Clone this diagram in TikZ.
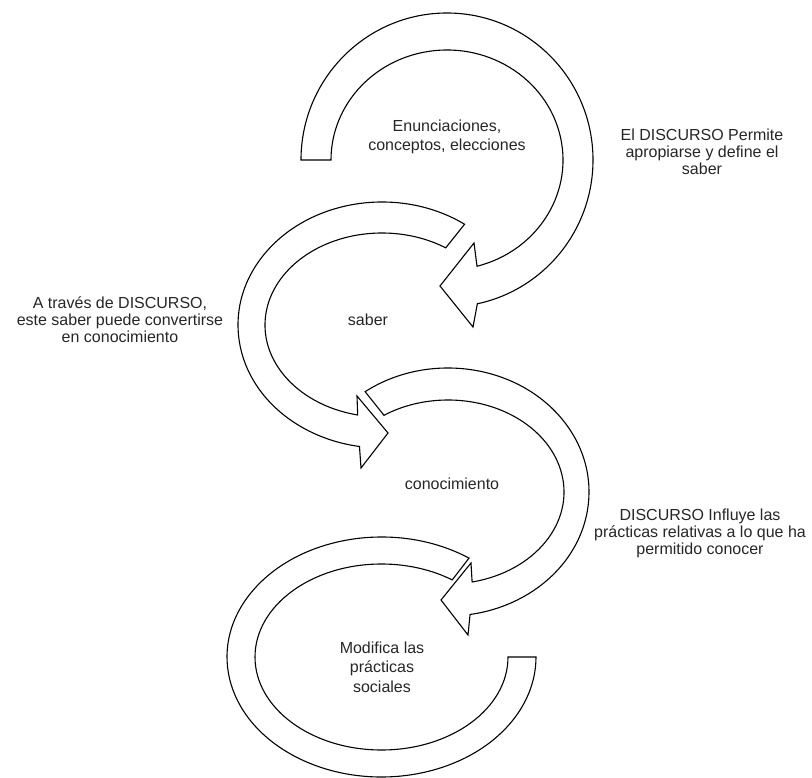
\documentclass[tikz,border=0pt]{standalone}
\usepackage{fontspec}
\setmainfont{Liberation Sans}
\usetikzlibrary{calc}

\begin{document}
\begin{tikzpicture}[
  x=1pt, y=1pt,
  font=\fontsize{16}{17}\selectfont,
  blockarrow/.style={draw=black, fill=white, line width=1.1pt, line join=miter},
  lbl/.style={align=center, inner sep=0pt, text=black!85},
  inlbl/.style={align=center, inner sep=0pt, text=black!85,
    font=\fontsize{16}{19.5}\selectfont},
]
\useasboundingbox (0,0) rectangle (812,-778);

% centres of the four curved arrows
\coordinate (c1) at (447,-160);
\coordinate (c2) at (382,-325);
\coordinate (c3) at (448,-492);
\coordinate (c4) at (381.5,-657);

% arrow heads
\coordinate (h1up)  at (474,-243);
\coordinate (h1tip) at (440,-286);
\coordinate (h1lo)  at (473,-327);
\coordinate (h2up)  at (357,-396);
\coordinate (h2tip) at (388,-433);
\coordinate (h2lo)  at (361,-468);
\coordinate (h3up)  at (471,-563);
\coordinate (h3tip) at (441,-600);
\coordinate (h3lo)  at (468,-635);

% Enunciaciones -> saber
\draw[blockarrow] (c1) ++(180:146 and 147)
  arc[start angle=180, end angle=-78, x radius=146, y radius=147]
  -- (h1lo) -- (h1tip) -- (h1up)
  -- ($(c1)+(-75:116 and 110)$)
  arc[start angle=-75, end angle=180, x radius=116, y radius=110] -- cycle;

% saber -> conocimiento
\draw[blockarrow] (c2) ++(55:144 and 123)
  arc[start angle=55, end angle=261, x radius=144, y radius=123]
  -- (h2lo) -- (h2tip) -- (h2up)
  -- ($(c2)+(258:117 and 92)$)
  arc[start angle=258, end angle=57, x radius=117, y radius=92] -- cycle;

% conocimiento -> practicas
\draw[blockarrow] (c3) ++(126:141 and 124)
  arc[start angle=126, end angle=-81, x radius=141, y radius=124]
  -- (h3lo) -- (h3tip) -- (h3up)
  -- ($(c3)+(-78:116 and 92)$)
  arc[start angle=-78, end angle=123.5, x radius=116, y radius=92] -- cycle;

% practicas sociales
\draw[blockarrow] (c4) ++(55.5:154.5 and 120)
  arc[start angle=55.5, end angle=360, x radius=154.5, y radius=120]
  -- ($(c4)+(0:126.5 and 93)$)
  arc[start angle=360, end angle=56, x radius=126.5, y radius=93] -- cycle;

\node[inlbl] (enun) at (447,-137) {Enunciaciones,\\conceptos, elecciones};
\node[inlbl] (saber) at (368,-320) {saber};
\node[inlbl] (conoc) at (452,-484) {conocimiento};
\node[inlbl] (modif) at (382,-667) {Modifica las\\prácticas\\sociales};

\node[lbl] (permite) at (702,-152) {El DISCURSO Permite\\apropiarse y define el\\saber};
\node[lbl] (atraves) at (120,-320) {A través de DISCURSO,\\este saber puede convertirse\\en conocimiento};
\node[lbl] (influye) at (700,-533) {DISCURSO Influye las\\prácticas relativas a lo que ha\\permitido conocer};

\end{tikzpicture}
\end{document}
